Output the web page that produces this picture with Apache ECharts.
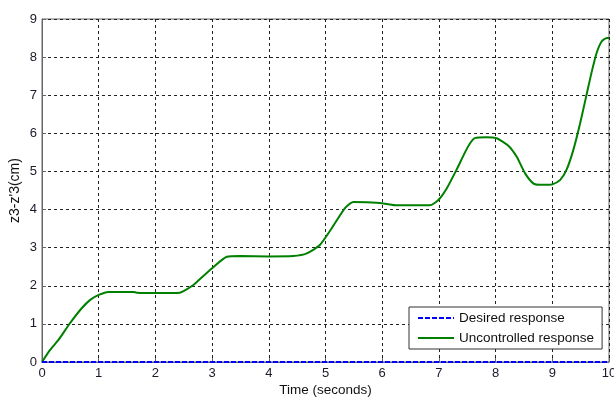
<!DOCTYPE html>
<html>
<head>
<meta charset="utf-8">
<script src="https://cdn.jsdelivr.net/npm/echarts@6/dist/echarts.min.js"></script>
<style>html,body{margin:0;padding:0;background:#fff;}#c{width:614px;height:397px;}</style>
</head>
<body>
<div id="c"></div>
<script>
var xTicks = [0, 1, 2, 3, 4, 5, 6, 7, 8, 9, 10];
var yTicks = [0, 1, 2, 3, 4, 5, 6, 7, 8, 9];
var desiredTime = [0, 10];
var desiredValues = [0, 0];
var uncontrolledTime = [0, 0.14, 0.29, 0.49, 0.7, 0.85, 1.0, 1.17, 1.4, 1.61, 1.67, 2.0, 2.43, 2.52, 2.67, 2.73, 3.0, 3.26, 3.5, 4.0, 4.43, 4.67, 4.9, 5.11, 5.34, 5.49, 5.73, 6.02, 6.26, 6.84, 6.99, 7.14, 7.31, 7.46, 7.55, 7.64, 7.84, 8.02, 8.22, 8.37, 8.52, 8.67, 8.78, 8.9, 9.0, 9.14, 9.25, 9.37, 9.49, 9.61, 9.69, 9.78, 9.87, 9.96, 10];
var uncontrolledValues = [0, 0.31, 0.58, 1.01, 1.41, 1.63, 1.76, 1.84, 1.84, 1.84, 1.82, 1.81, 1.82, 1.88, 2.02, 2.1, 2.46, 2.76, 2.78, 2.77, 2.78, 2.85, 3.07, 3.51, 4.03, 4.2, 4.19, 4.16, 4.11, 4.11, 4.25, 4.56, 5.04, 5.5, 5.74, 5.88, 5.9, 5.87, 5.68, 5.39, 4.95, 4.68, 4.65, 4.65, 4.66, 4.78, 5.04, 5.56, 6.26, 7.05, 7.58, 8.1, 8.41, 8.5, 8.5];
var seriesNames = ['Desired response', 'Uncontrolled response'];
var xName = 'Time (seconds)';
var yName = "z3-z'3(cm)";

function pairs(t, v) { return t.map(function (x, i) { return [x, v[i]]; }); }

var font = 'Liberation Sans, Arial, sans-serif';
var chart = echarts.init(document.getElementById('c'), null, { renderer: 'canvas' });
chart.setOption({
  animation: false,
  backgroundColor: '#fff',
  grid: { left: 42, right: 5, top: 19, bottom: 35, show: true, borderColor: '#666', borderWidth: 1, outerBoundsMode: 'none' },
  xAxis: {
    type: 'value', min: xTicks[0], max: xTicks[xTicks.length - 1], interval: 1,
    name: xName, nameLocation: 'middle', nameGap: 21, nameMoveOverlap: false,
    nameTextStyle: { fontFamily: font, fontSize: 13.5, color: '#111' },
    axisLine: { show: true, lineStyle: { color: '#666' } },
    axisTick: { show: true, inside: true, length: 4, lineStyle: { color: '#666' } },
    axisLabel: { fontFamily: font, fontSize: 13, color: '#1a1a2a', margin: 5 },
    splitLine: { show: true, lineStyle: { color: '#222', type: [3, 3], width: 1 } }
  },
  yAxis: {
    type: 'value', min: yTicks[0], max: yTicks[yTicks.length - 1], interval: 1,
    name: yName, nameLocation: 'middle', nameGap: 20, nameMoveOverlap: false,
    nameTextStyle: { fontFamily: font, fontSize: 14, color: '#111' },
    axisLine: { show: true, lineStyle: { color: '#666' } },
    axisTick: { show: true, inside: true, length: 4, lineStyle: { color: '#666' } },
    axisLabel: { fontFamily: font, fontSize: 13, color: '#1a1a2a', margin: 5 },
    splitLine: { show: true, lineStyle: { color: '#222', type: [3, 3], width: 1 } }
  },
  legend: {
    left: 409, top: 307, orient: 'vertical',
    itemWidth: 36, itemHeight: 14, itemGap: 6,
    padding: [4, 8, 4, 8],
    backgroundColor: '#fff', borderColor: '#333', borderWidth: 1,
    itemStyle: { opacity: 0 },
    textStyle: { fontFamily: font, fontSize: 13.5, color: '#111' },
    data: seriesNames
  },
  series: [
    {
      name: seriesNames[0], type: 'line', data: pairs(desiredTime, desiredValues),
      showSymbol: false, symbol: 'none', z: 5,
      lineStyle: { color: '#0000ff', width: 2, type: [5, 2] }, itemStyle: { color: '#0000ff' }
    },
    {
      name: seriesNames[1], type: 'line', data: pairs(uncontrolledTime, uncontrolledValues),
      showSymbol: false, symbol: 'none', smooth: 0.2,
      lineStyle: { color: '#008000', width: 2 }, itemStyle: { color: '#008000' }
    }
  ]
});
</script>
</body>
</html>
